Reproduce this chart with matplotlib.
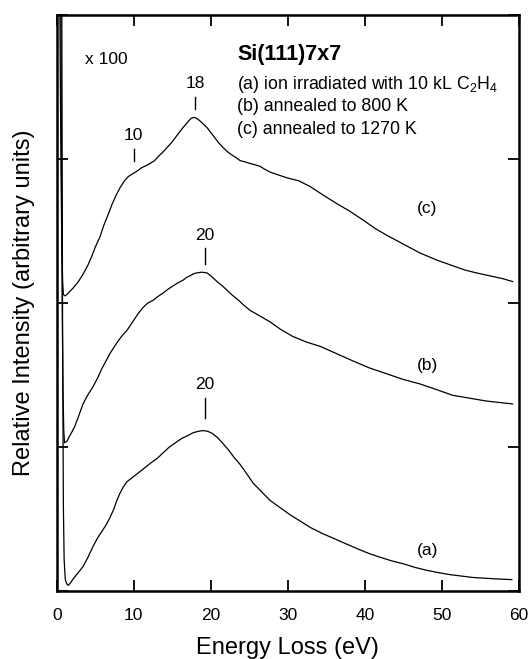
import matplotlib
matplotlib.use("Agg")
import matplotlib.pyplot as plt

plt.rcParams["font.family"] = ["Liberation Sans", "DejaVu Sans"]
plt.rcParams["mathtext.fontset"] = "custom"
plt.rcParams["mathtext.rm"] = "Liberation Sans"
plt.rcParams["mathtext.it"] = "Liberation Sans:italic"

# ── data (offset units: 1 per y tick) ────────────────────────────────────────
# (a) ion irradiated with 10 kL C2H4
E_a = [0.05, 0.4, 0.65, 0.75, 0.85, 0.95, 1.1, 1.3, 1.5, 1.8,
       2.2, 2.8, 3.4, 4.0, 4.7, 5.3, 5.8, 6.4, 6.9, 7.4,
       7.8, 8.2, 8.6, 9.1, 9.6, 10.2, 10.8, 11.5, 12.2, 13.0,
       13.8, 14.6, 15.4, 16.2, 17.0, 17.7, 18.4, 19.0, 19.6, 20.2,
       20.8, 21.5, 22.3, 23.0, 23.8, 24.6, 25.5, 26.6, 27.7, 29.0,
       30.3, 31.5, 33.0, 34.5, 36.0, 37.5, 39.0, 40.6, 42.0, 43.5,
       45.0, 46.5, 48.0, 49.4, 51.0, 52.5, 54.0, 55.5, 57.0, 59.1]
I_a = [6.0, 6.0, 4.0, 1.8, 0.6, 0.22, 0.08, 0.05, 0.04, 0.06,
       0.09, 0.13, 0.17, 0.23, 0.31, 0.37, 0.41, 0.46, 0.51, 0.57,
       0.63, 0.68, 0.72, 0.76, 0.78, 0.805, 0.83, 0.86, 0.89, 0.92,
       0.96, 1.00, 1.03, 1.06, 1.08, 1.10, 1.11, 1.115, 1.11, 1.095,
       1.07, 1.03, 0.98, 0.93, 0.88, 0.82, 0.75, 0.69, 0.63, 0.58,
       0.53, 0.49, 0.44, 0.40, 0.365, 0.33, 0.295, 0.26, 0.235, 0.21,
       0.19, 0.165, 0.145, 0.13, 0.115, 0.105, 0.095, 0.09, 0.085, 0.08]

# (b) annealed to 800 K
E_b = [0.05, 0.3, 0.5, 0.6, 0.7, 0.8, 0.9, 1.0, 1.3, 1.7,
       2.3, 2.8, 3.4, 4.0, 4.7, 5.3, 5.8, 6.4, 6.9, 7.5,
       8.0, 8.5, 9.1, 9.6, 10.1, 10.6, 11.2, 11.8, 12.5, 13.1,
       13.8, 14.4, 15.1, 15.7, 16.4, 16.9, 17.3, 17.8, 18.2, 18.8,
       19.5, 20.1, 20.8, 21.5, 22.1, 22.8, 23.6, 24.3, 25.1, 26.4,
       27.7, 29.0, 30.6, 32.4, 34.2, 36.3, 38.4, 40.6, 42.8, 45.0,
       47.1, 49.3, 51.4, 53.6, 55.8, 57.5, 59.2]
I_b = [6.0, 6.0, 4.5, 3.0, 2.0, 1.4, 1.12, 1.03, 1.04, 1.08,
       1.14, 1.21, 1.30, 1.36, 1.42, 1.48, 1.54, 1.60, 1.65, 1.70,
       1.74, 1.775, 1.81, 1.85, 1.89, 1.93, 1.97, 2.00, 2.02, 2.045,
       2.07, 2.095, 2.12, 2.14, 2.16, 2.18, 2.19, 2.205, 2.21, 2.215,
       2.21, 2.185, 2.15, 2.12, 2.09, 2.055, 2.02, 1.985, 1.95, 1.91,
       1.87, 1.82, 1.77, 1.73, 1.70, 1.65, 1.60, 1.55, 1.51, 1.47,
       1.44, 1.40, 1.36, 1.34, 1.32, 1.31, 1.30]

# (c) annealed to 1270 K
E_c = [0.05, 0.2, 0.35, 0.45, 0.55, 0.65, 0.75, 0.85, 1.1, 1.5,
       2.2, 2.8, 3.4, 4.0, 4.5, 5.0, 5.6, 6.1, 6.7, 7.2,
       7.8, 8.3, 8.8, 9.3, 9.9, 10.5, 11.0, 11.6, 12.1, 12.7,
       13.2, 13.8, 14.3, 14.9, 15.4, 15.9, 16.4, 16.8, 17.2, 17.5,
       17.8, 18.1, 18.5, 19.0, 19.5, 20.0, 20.5, 21.0, 21.6, 22.2,
       22.7, 23.3, 23.8, 24.5, 25.1, 25.8, 26.4, 27.0, 27.7, 28.8,
       29.9, 31.4, 32.9, 34.6, 36.4, 38.0, 39.7, 41.3, 42.9, 45.0,
       47.1, 49.3, 51.4, 53.0, 54.5, 56.2, 57.9, 59.2]
I_c = [6.0, 6.0, 4.5, 3.6, 2.9, 2.4, 2.15, 2.06, 2.05, 2.07,
       2.11, 2.15, 2.20, 2.26, 2.32, 2.39, 2.46, 2.54, 2.62, 2.69,
       2.76, 2.81, 2.85, 2.88, 2.90, 2.92, 2.94, 2.955, 2.97, 2.99,
       3.02, 3.05, 3.08, 3.115, 3.15, 3.185, 3.22, 3.245, 3.27, 3.285,
       3.29, 3.285, 3.27, 3.245, 3.22, 3.185, 3.15, 3.115, 3.08, 3.05,
       3.03, 3.01, 2.99, 2.98, 2.97, 2.96, 2.95, 2.93, 2.91, 2.89,
       2.87, 2.85, 2.81, 2.75, 2.69, 2.64, 2.58, 2.52, 2.47, 2.41,
       2.35, 2.30, 2.26, 2.23, 2.21, 2.19, 2.17, 2.15]

# peak markers: energy, tick bottom, tick top, label
PEAK_E     = [10.0, 18.0, 19.2, 19.2]
PEAK_LO    = [2.99, 3.35, 2.27, 1.20]
PEAK_HI    = [3.07, 3.43, 2.38, 1.34]
PEAK_LABEL = ["10", "18", "20", "20"]

CURVE_TAGS = ["(a)", "(b)", "(c)"]
CURVE_TAG_Y = [0.285, 1.57, 2.66]

LEGEND_LINES = [r"(a) ion irradiated with 10 kL C$_2$H$_4$",
                "(b) annealed to 800 K",
                "(c) annealed to 1270 K"]

# ── figure ───────────────────────────────────────────────────────────────────
fig = plt.figure(figsize=(5.31, 6.59), dpi=100)
ax = fig.add_axes([0.107, 0.103, 0.870, 0.874])

for E, I in [(E_a, I_a), (E_b, I_b), (E_c, I_c)]:
    ax.plot(E, I, color="black", lw=0.9)

for e, lo, hi, lab in zip(PEAK_E, PEAK_LO, PEAK_HI, PEAK_LABEL):
    ax.plot([e, e], [lo, hi], color="black", lw=1.0)
    ax.text(e, hi + 0.04, lab, ha="center", va="bottom", fontsize=12.5)

for tag, y in zip(CURVE_TAGS, CURVE_TAG_Y):
    ax.text(48.1, y, tag, ha="center", va="center", fontsize=12.5)

ax.text(3.6, 3.69, "x 100", ha="left", va="center", fontsize=12.5)
ax.text(23.4, 3.73, "Si(111)7x7", ha="left", va="center", fontsize=15.5,
        fontweight="bold")
for i, line in enumerate(LEGEND_LINES):
    ax.text(23.4, 3.52 - i * 0.156, line, ha="left", va="center", fontsize=12.8)

ax.set_xlim(0, 60)
ax.set_ylim(0, 4)
ax.set_xticks(range(0, 61, 10))
ax.set_yticks([0, 1, 2, 3, 4])
ax.set_yticklabels([])
ax.tick_params(direction="in", length=8, width=1.3, top=True, right=True,
               labelsize=12.5, pad=12)
for s in ax.spines.values():
    s.set_linewidth(1.8)

ax.set_xlabel("Energy Loss (eV)", fontsize=17, labelpad=10)
ax.set_ylabel("Relative Intensity (arbitrary units)", fontsize=17, labelpad=4)

fig.savefig("out.png", dpi=100)
